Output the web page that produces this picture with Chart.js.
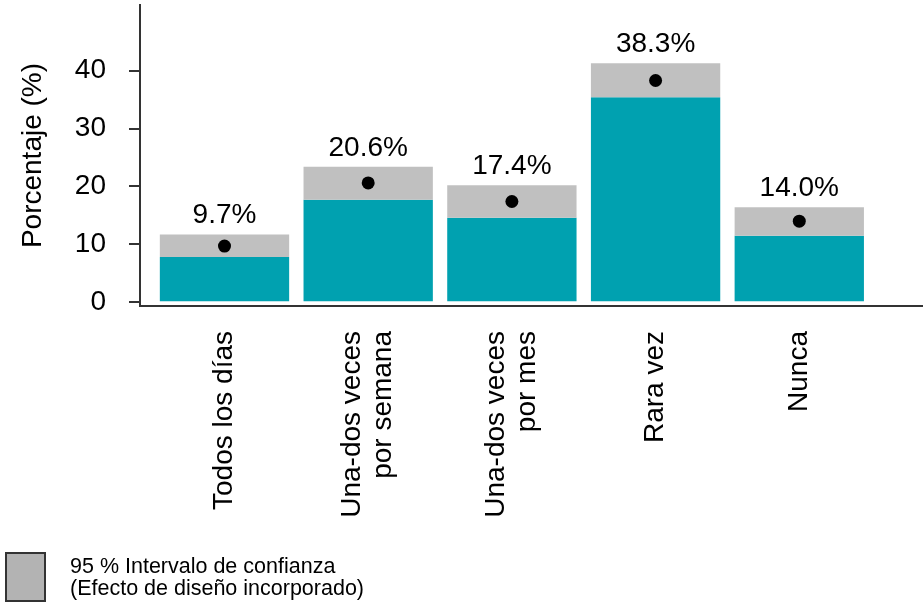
<!DOCTYPE html>
<html>
<head>
<meta charset="utf-8">
<script src="https://cdn.jsdelivr.net/npm/chart.js@4/dist/chart.umd.min.js"></script>
<style>
  html, body { margin: 0; padding: 0; background: #ffffff; }
  #wrap { width: 923px; height: 603px; position: relative; }
</style>
</head>
<body>
<div id="wrap"><canvas id="c" width="923" height="603"></canvas></div>
<script>
// ---- data ----
const categories = ['Todos los días', ['Una-dos veces', 'por semana'], ['Una-dos veces', 'por mes'], 'Rara vez', 'Nunca'];
const estimate = [9.7, 20.6, 17.4, 38.3, 14.0];
const lowerCI = [7.8, 17.7, 14.6, 35.4, 11.5];
const upperCI = [11.7, 23.4, 20.2, 41.3, 16.4];
const yTicks = [0, 10, 20, 30, 40];
const yTitle = 'Porcentaje (%)';
const legendLines = ['95 % Intervalo de confianza', '(Efecto de diseño incorporado)'];

const TEAL = '#00A1B0';
const GRAY = '#C0C0C0';
const AXIS = '#333333';
const FONT = "'Liberation Sans', Arial, sans-serif";

// value labels above each confidence band
const valueLabels = {
  id: 'valueLabels',
  afterDatasetsDraw(chart) {
    const {ctx, scales: {x, y}} = chart;
    ctx.save();
    ctx.font = '28px ' + FONT;
    ctx.fillStyle = '#000';
    ctx.textAlign = 'center';
    ctx.textBaseline = 'alphabetic';
    estimate.forEach((v, i) => {
      ctx.fillText(v.toFixed(1) + '%', x.getPixelForValue(i), y.getPixelForValue(upperCI[i]) - 11);
    });
    ctx.restore();
  }
};

// vertical category labels (multi-line blocks centred on the bar)
const categoryLabels = {
  id: 'categoryLabels',
  afterDraw(chart) {
    const {ctx, scales: {x}} = chart;
    const lh = 31;
    ctx.save();
    ctx.font = '28px ' + FONT;
    ctx.fillStyle = '#000';
    ctx.textAlign = 'right';
    ctx.textBaseline = 'middle';
    categories.forEach((c, i) => {
      const lines = Array.isArray(c) ? c : [c];
      const cx = x.getPixelForValue(i);
      lines.forEach((t, j) => {
        const off = (j - (lines.length - 1) / 2) * lh;
        ctx.save();
        ctx.translate(cx + off, x.top + 25);
        ctx.rotate(-Math.PI / 2);
        ctx.fillText(t, 0, 0);
        ctx.restore();
      });
    });
    ctx.restore();
  }
};

const ciLegend = {
  id: 'ciLegend',
  afterDraw(chart) {
    const ctx = chart.ctx;
    ctx.save();
    ctx.fillStyle = '#B3B3B3';
    ctx.fillRect(6, 553, 39, 48);
    ctx.strokeStyle = AXIS;
    ctx.lineWidth = 2;
    ctx.strokeRect(6, 553, 39, 48);
    ctx.fillStyle = '#000';
    ctx.font = '21.5px ' + FONT;
    ctx.textAlign = 'left';
    ctx.textBaseline = 'alphabetic';
    ctx.fillText(legendLines[0], 70, 573);
    ctx.fillText(legendLines[1], 70, 595);
    ctx.restore();
  }
};

new Chart(document.getElementById('c'), {
  data: {
    datasets: [
      {
        type: 'line',
        label: 'Estimación',
        data: estimate.map((v, i) => ({x: i, y: v})),
        showLine: false,
        pointRadius: 6.5,
        pointHoverRadius: 6.5,
        pointBackgroundColor: '#000',
        pointBorderColor: '#000',
        pointBorderWidth: 0
      },
      {
        type: 'bar',
        label: 'IC superior',
        data: lowerCI.map((v, i) => ({x: i, y: [v, upperCI[i]]})),
        backgroundColor: GRAY,
        borderWidth: 0,
        grouped: false,
        barPercentage: 0.9,
        categoryPercentage: 1
      },
      {
        type: 'bar',
        label: 'IC inferior',
        data: lowerCI.map((v, i) => ({x: i, y: v})),
        backgroundColor: TEAL,
        borderWidth: 0,
        grouped: false,
        barPercentage: 0.9,
        categoryPercentage: 1
      }
    ]
  },
  options: {
    responsive: false,
    animation: false,
    devicePixelRatio: 1,
    layout: { autoPadding: false, padding: { top: 5, right: 0, bottom: 0, left: 0 } },
    plugins: { legend: { display: false }, tooltip: { enabled: false } },
    scales: {
      x: {
        type: 'linear',
        offset: false,
        min: -0.588,
        max: 4.861,
        afterBuildTicks: (s) => { s.ticks = categories.map((_, i) => ({value: i})); },
        afterFit: (s) => {
          s.height = 297;
          s.paddingLeft = 0; s.paddingRight = 0; s.paddingTop = 0; s.paddingBottom = 0;
        },
        grid: { display: false },
        border: { display: true, color: AXIS, width: 2 },
        ticks: { display: false }
      },
      y: {
        type: 'linear',
        min: -0.66,
        max: 51.35,
        afterBuildTicks: (s) => { s.ticks = yTicks.map(v => ({value: v})); },
        afterFit: (s) => {
          s.width = 140;
          s.paddingLeft = 0; s.paddingRight = 0; s.paddingTop = 0; s.paddingBottom = 0;
        },
        grid: { drawOnChartArea: false, drawTicks: true, tickLength: 11, color: AXIS, lineWidth: 2 },
        border: { display: true, color: AXIS, width: 2 },
        ticks: {
          padding: 23,
          color: '#000',
          font: { family: FONT, size: 28 }
        },
        title: {
          display: true,
          text: yTitle,
          color: '#000',
          font: { family: FONT, size: 28 },
          padding: { top: 16, bottom: 0 }
        }
      }
    }
  },
  plugins: [valueLabels, categoryLabels, ciLegend]
});
</script>
</body>
</html>
